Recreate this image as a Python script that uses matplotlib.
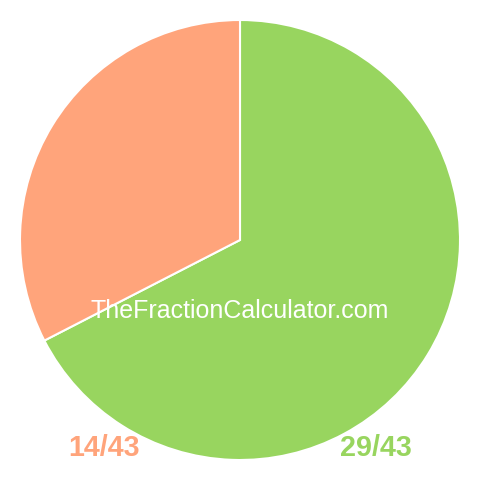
import matplotlib
matplotlib.use("Agg")
import matplotlib.pyplot as plt

labels = ["29/43", "14/43"]
values = [29, 14]
colors = ["#98D55F", "#FFA47B"]
watermark = "TheFractionCalculator.com"

fig = plt.figure(figsize=(4.8, 4.8), dpi=100)
ax = fig.add_axes([20/480, 20/480, 440/480, 440/480])
ax.pie(values, colors=colors, startangle=90, counterclock=False,
       wedgeprops=dict(edgecolor="white", linewidth=1.5))
ax.set_aspect("equal")
ax.set_xlim(-1, 1)
ax.set_ylim(-1, 1)

fig.text(240/480, 1 - 311/480, watermark, color="white", fontsize=18,
         family="Liberation Sans", ha="center", va="center")
fig.text(103.5/480, 1 - 448/480, labels[1], color=colors[1], fontsize=20.7,
         family="Liberation Sans", fontweight="bold", ha="center", va="center")
fig.text(376/480, 1 - 448/480, labels[0], color=colors[0], fontsize=20.7,
         family="Liberation Sans", fontweight="bold", ha="center", va="center")

fig.savefig("out.png", dpi=100)
